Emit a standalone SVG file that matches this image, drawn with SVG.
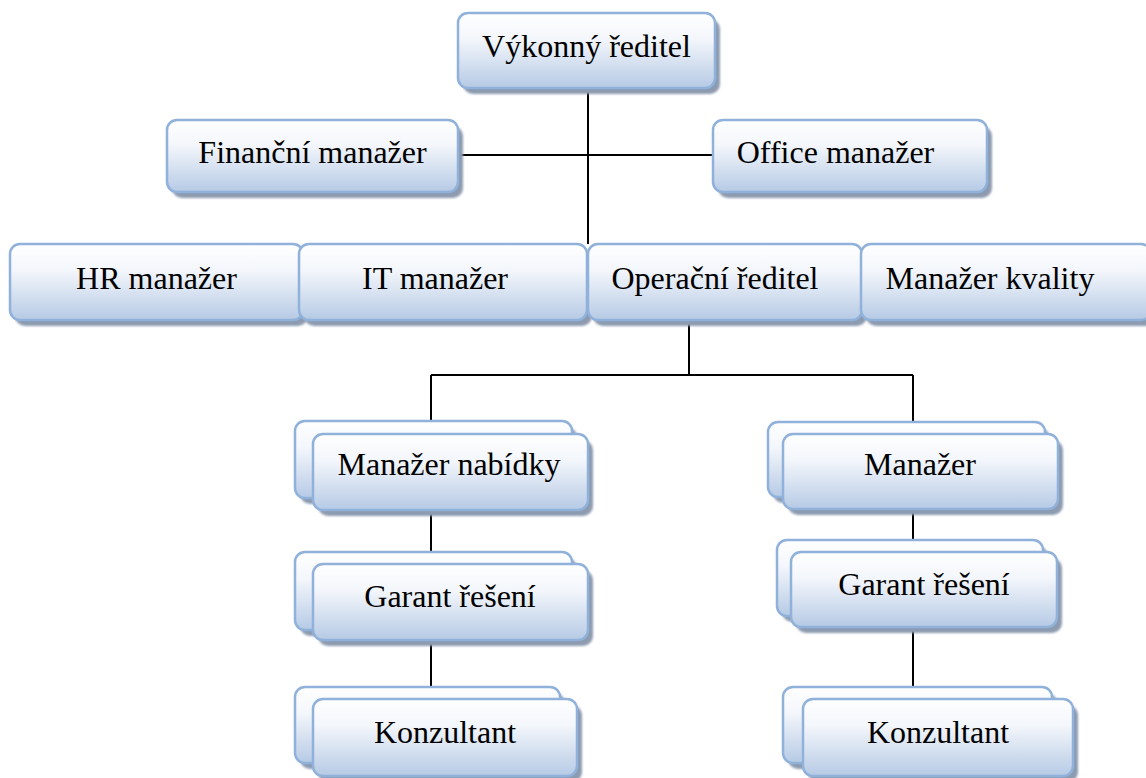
<svg xmlns="http://www.w3.org/2000/svg" width="1146" height="778" viewBox="0 0 1146 778">
<style>
.box{fill:url(#g);stroke:#8fb1da;stroke-width:2.5}
.sh{fill:#8d9bb0}
.t{font-size:32px;fill:#000;text-anchor:middle}
.c{stroke:#000;stroke-width:2;fill:none}
</style>
<defs>
<linearGradient id="g" x1="0" y1="0" x2="0" y2="1">
<stop offset="0" stop-color="#ffffff"/>
<stop offset="0.35" stop-color="#f3f6fb"/>
<stop offset="1" stop-color="#b6cae5"/>
</linearGradient>
<filter id="b" x="-5%" y="-10%" width="110%" height="120%"><feGaussianBlur stdDeviation="1"/></filter>
</defs>
<rect width="1146" height="778" fill="#fff"/>
<g id="connectors">
<path class="c" d="M588 88V244M458 155H713"/>
<path class="c" d="M689 319V375M431 375H913M431 375V421M913 375V422"/>
<path class="c" d="M431 510V552M431 640V687M913 509V540M913 627V687"/>
</g>
<g font-family="Liberation Serif, DejaVu Serif, serif">
<g id="n1"><rect class="sh" filter="url(#b)" x="463" y="19" width="257" height="75" rx="10"/><rect class="box" x="458" y="13" width="257" height="75" rx="10"/><text class="t" x="586.5" y="57">Výkonný ředitel</text></g>
<g id="n2"><rect class="sh" filter="url(#b)" x="172" y="126" width="291" height="72" rx="10"/><rect class="box" x="167" y="120" width="291" height="72" rx="10"/><text class="t" x="312.5" y="163">Finanční manažer</text></g>
<g id="n3"><rect class="sh" filter="url(#b)" x="718" y="126" width="274" height="72" rx="10"/><rect class="box" x="713" y="120" width="274" height="72" rx="10"/><text class="t" x="835.5" y="163">Office manažer</text></g>
<g id="n4"><rect class="sh" filter="url(#b)" x="15" y="250" width="293" height="76" rx="10"/><rect class="box" x="10" y="244" width="293" height="76" rx="10"/><text class="t" x="156.5" y="289">HR manažer</text></g>
<g id="n5"><rect class="sh" filter="url(#b)" x="304" y="250" width="288" height="76" rx="10"/><rect class="box" x="299" y="244" width="288" height="76" rx="10"/><text class="t" x="435" y="289">IT manažer</text></g>
<g id="n6"><rect class="sh" filter="url(#b)" x="593" y="250" width="274" height="76" rx="10"/><rect class="box" x="588" y="244" width="274" height="76" rx="10"/><text class="t" x="715" y="289">Operační ředitel</text></g>
<g id="n7"><rect class="sh" filter="url(#b)" x="866" y="250" width="290" height="76" rx="10"/><rect class="box" x="861" y="244" width="290" height="76" rx="10"/><text class="t" x="990" y="289">Manažer kvality</text></g>
<g id="n8"><rect class="sh" filter="url(#b)" x="300" y="427" width="277" height="77" rx="10"/><rect class="box" x="295" y="421" width="277" height="77" rx="10"/><rect class="sh" filter="url(#b)" x="318" y="440" width="275" height="76" rx="10"/><rect class="box" x="313" y="434" width="275" height="76" rx="10"/><text class="t" x="449" y="475">Manažer nabídky</text></g>
<g id="n9"><rect class="sh" filter="url(#b)" x="773" y="428" width="277" height="75" rx="10"/><rect class="box" x="768" y="422" width="277" height="75" rx="10"/><rect class="sh" filter="url(#b)" x="788" y="440" width="275" height="75" rx="10"/><rect class="box" x="783" y="434" width="275" height="75" rx="10"/><text class="t" x="920" y="475">Manažer</text></g>
<g id="n10"><rect class="sh" filter="url(#b)" x="300" y="558" width="277" height="78" rx="10"/><rect class="box" x="295" y="552" width="277" height="78" rx="10"/><rect class="sh" filter="url(#b)" x="318" y="570" width="275" height="76" rx="10"/><rect class="box" x="313" y="564" width="275" height="76" rx="10"/><text class="t" x="450" y="607">Garant řešení</text></g>
<g id="n11"><rect class="sh" filter="url(#b)" x="782" y="546" width="266" height="76" rx="10"/><rect class="box" x="777" y="540" width="266" height="76" rx="10"/><rect class="sh" filter="url(#b)" x="796" y="558" width="266" height="75" rx="10"/><rect class="box" x="791" y="552" width="266" height="75" rx="10"/><text class="t" x="924" y="595">Garant řešení</text></g>
<g id="n12"><rect class="sh" filter="url(#b)" x="300" y="693" width="265" height="76" rx="10"/><rect class="box" x="295" y="687" width="265" height="76" rx="10"/><rect class="sh" filter="url(#b)" x="318" y="705" width="264" height="77" rx="10"/><rect class="box" x="313" y="699" width="264" height="77" rx="10"/><text class="t" x="445" y="743">Konzultant</text></g>
<g id="n13"><rect class="sh" filter="url(#b)" x="788" y="693" width="269" height="76" rx="10"/><rect class="box" x="783" y="687" width="269" height="76" rx="10"/><rect class="sh" filter="url(#b)" x="808" y="705" width="270" height="77" rx="10"/><rect class="box" x="803" y="699" width="270" height="77" rx="10"/><text class="t" x="938" y="743">Konzultant</text></g>
</g>
</svg>
